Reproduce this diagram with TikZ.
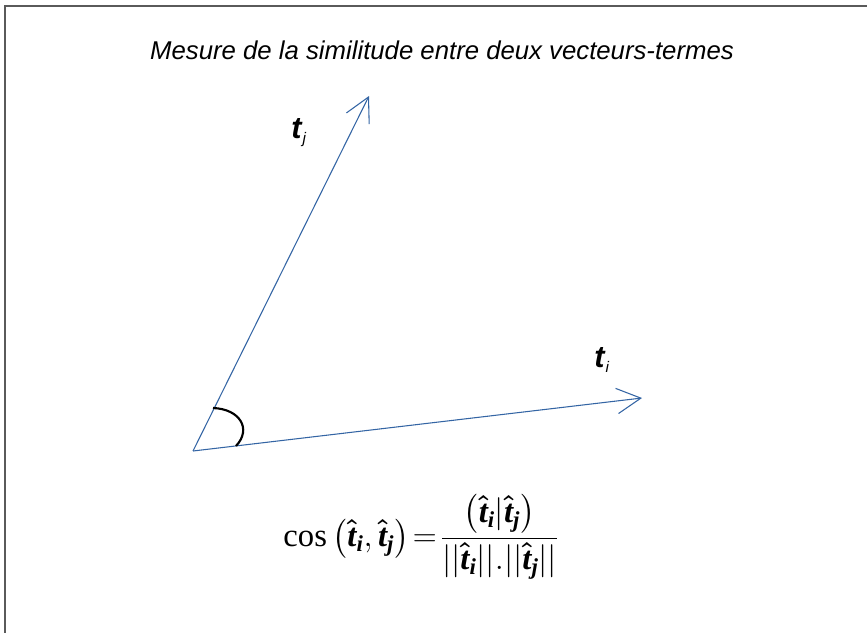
\documentclass[tikz,border=0pt]{standalone}
\usepackage{amsmath,amssymb}
\usepackage{fontspec}
\setmainfont{Liberation Serif}
\setsansfont{Liberation Sans}
\usepackage{tikz}
\usepackage{xcolor}
\usetikzlibrary{arrows.meta}
\definecolor{vecblue}{RGB}{52,101,164}
\definecolor{framegray}{RGB}{90,90,90}
\newcommand{\tvec}{\boldsymbol{\hat{\text{\bfseries\itshape t}}}}
\newcommand{\bsub}[1]{\text{\bfseries\itshape #1}}

\begin{document}
\begin{tikzpicture}[x=0.75pt,y=-0.75pt,
  every node/.style={inner sep=0pt},
  vecline/.style={vecblue,line width=0.8pt,-{Straight Barb[length=18pt,width=19pt,line width=0.8pt]}},
  anglearc/.style={black,line width=1.6pt},
  veclabel/.style={font=\sffamily\fontsize{23}{27}\selectfont}]
\useasboundingbox (0,0) rectangle (867,632);
\draw[framegray,line width=0.8pt] (5,640) -- (5,6) -- (875,6);
\node (title) at (442,50) {\sffamily\itshape\fontsize{19.3}{23}\selectfont Mesure de la similitude entre deux vecteurs-termes};
% origin and the two vectors
\coordinate (O) at (193,451);
\coordinate (tjend) at (369,96);
\coordinate (tiend) at (642,398);
\draw[vecline] (O) -- (tjend);
\draw[vecline] (O) -- (tiend);
\node[veclabel] (tjlab) at (299,133) {\textbf{\textit{t}}$_{\scriptscriptstyle\textit{j}}$};
\node[veclabel] (tilab) at (602,360) {\textbf{\textit{t}}$_{\scriptscriptstyle\textit{i}}$};
% angle between them
\coordinate (arcA) at (213,408);
\coordinate (arcB) at (236,446);
\draw[anglearc] (arcA) .. controls (240,409) and (252,429) .. (arcB);
% cosine formula
\node (formula) at (421,537) {\fontsize{24.5}{29}\selectfont
  $\cos\left(\tvec_{\bsub{i}},\tvec_{\bsub{j}}\right)\!=\!\dfrac{\left(\tvec_{\bsub{i}}|\tvec_{\bsub{j}}\right)}{||\tvec_{\bsub{i}}||.||\tvec_{\bsub{j}}||}$};
\end{tikzpicture}
\end{document}
